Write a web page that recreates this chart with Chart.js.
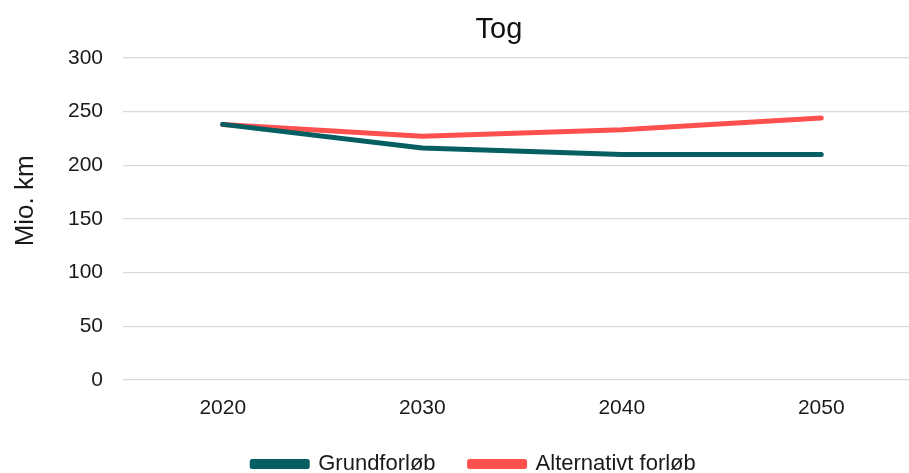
<!DOCTYPE html>
<html>
<head>
<meta charset="utf-8">
<script src="https://cdn.jsdelivr.net/npm/chart.js@4.4.1/dist/chart.umd.min.js"></script>
<style>
  html, body { margin:0; padding:0; background:#fff; overflow:hidden; }
  .wrap { width:909px; height:473px; overflow:hidden; }
</style>
</head>
<body>
<div class="wrap"><canvas id="c" width="948" height="473"></canvas></div>
<script>
// data
const years        = ['2020', '2030', '2040', '2050'];
const grundforloeb = [238, 216, 210, 210];
const alternativ   = [238, 227, 233, 244];
const yTicks       = [0, 50, 100, 150, 200, 250, 300];

const FONT = "'Liberation Sans', Arial, Helvetica, sans-serif";
Chart.defaults.font.family = FONT;
Chart.defaults.color = '#1a1a1a';

const serie = (label, data, color) => ({
  label, data,
  borderColor: color, backgroundColor: color,
  borderWidth: 5, tension: 0, pointRadius: 0,
  borderCapStyle: 'round', borderJoinStyle: 'round', fill: false
});

// the title sits a bit right of the legend in the original
const shiftTitle = {
  id: 'shiftTitle',
  afterLayout(chart) {
    if (chart.titleBlock) { chart.titleBlock.left += 25; chart.titleBlock.right += 25; }
  }
};

new Chart(document.getElementById('c'), {
  type: 'line',
  data: {
    labels: years,
    datasets: [
      serie('Grundforløb', grundforloeb, '#045E62'),
      serie('Alternativt forløb', alternativ, '#FF5050')
    ]
  },
  plugins: [shiftTitle],
  options: {
    responsive: false,
    animation: false,
    layout: { padding: { left: 0, right: 0, top: 0, bottom: -12 } },
    plugins: {
      title: { display: true, text: 'Tog', font: { size: 29, weight: 'normal' }, color: '#111',
               padding: { top: 13, bottom: 10 } },
      legend: {
        position: 'bottom',
        labels: { boxWidth: 55, boxHeight: 5, font: { size: 22 }, color: '#1a1a1a', padding: 34 }
      },
      tooltip: { enabled: false }
    },
    scales: {
      x: {
        offset: true,
        grid: { display: false, drawTicks: false },
        border: { display: false },
        ticks: { font: { size: 21 }, color: '#1a1a1a', padding: 16 },
        afterFit: s => { s.height = 39; }
      },
      y: {
        min: 0, max: 300,
        afterBuildTicks: s => { s.ticks = yTicks.map(v => ({ value: v })); },
        grid: { color: '#d9d9d9', lineWidth: 1.3, drawTicks: false },
        border: { display: false },
        ticks: { font: { size: 21 }, color: '#1a1a1a', padding: 20 },
        // leading spaces lift the label a little, as in the original
        title: { display: true, text: '     Mio. km', font: { size: 26 }, color: '#1a1a1a',
                 padding: { top: 10, bottom: 0 } },
        afterFit: s => { s.width = 123; }
      },
      // empty right-hand axis, only to leave the room the original plot keeps on the right
      yR: {
        position: 'right',
        grid: { display: false, drawTicks: false },
        border: { display: false },
        ticks: { display: false },
        afterFit: s => { s.width = 27; }
      }
    }
  }
});
</script>
</body>
</html>
